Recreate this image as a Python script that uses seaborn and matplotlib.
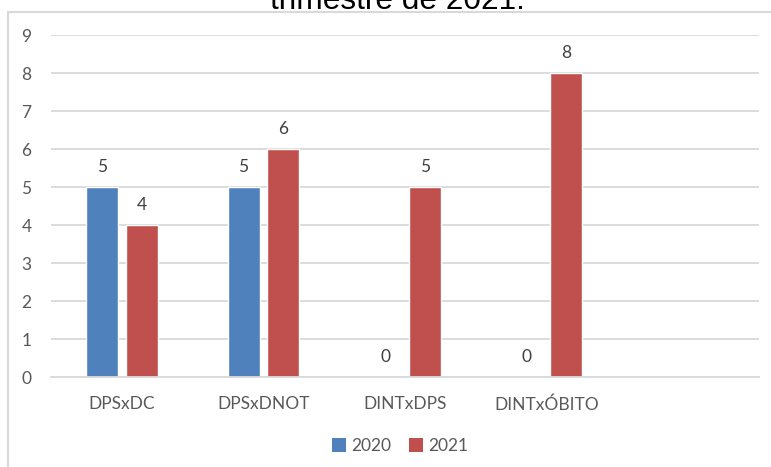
import matplotlib
matplotlib.use("Agg")
import matplotlib.pyplot as plt
from matplotlib.patches import Rectangle, Patch
import seaborn as sns
import pandas as pd

categories = ["DPSxDC", "DPSxDNOT", "DINTxDPS", "DINTxÓBITO"]
years = ["2020", "2021"]
values_2020 = [5, 5, 0, 0]
values_2021 = [4, 6, 5, 8]
title_text = "trimestre de 2021."

df = pd.DataFrame({
    "categoria": categories * 2,
    "ano": [years[0]] * 4 + [years[1]] * 4,
    "valor": values_2020 + values_2021,
})

sns.set_theme(style="white")
plt.rcParams["font.family"] = ["Lato", "DejaVu Sans"]

W, H = 771, 467
fig = plt.figure(figsize=(W / 100, H / 100), dpi=100)
ax = fig.add_axes([51 / W, 1 - 377 / H, (759 - 51) / W, (377 - 35) / H])

colors = {"2020": "#4F81BD", "2021": "#C0504D"}
sns.barplot(data=df, x="categoria", y="valor", hue="ano", order=categories,
            hue_order=years, palette=colors, width=0.56, gap=0.19,
            ax=ax, legend=False, saturation=1)

ax.set_xlim(-0.5, 4.5)
ax.set_ylim(0, 9)
ax.set_yticks(range(10))
ax.yaxis.grid(True, color="#D9D9D9", linewidth=1.3)
ax.set_axisbelow(True)
for s in ["top", "right", "left"]:
    ax.spines[s].set_visible(False)
ax.spines["bottom"].set_color("#D9D9D9")
ax.spines["bottom"].set_linewidth(1.3)
ax.set_xlabel("")
ax.set_ylabel("")
ax.tick_params(axis="both", length=0, labelsize=12.5, colors="#595959")
ax.tick_params(axis="y", pad=14)
ax.tick_params(axis="x", pad=14)

for cont in ax.containers:
    ax.bar_label(cont, fmt="%d", padding=9, fontsize=12.5, color="#404040")

# chart border
fig.patches.append(Rectangle((8 / W, -0.2), 1.2, 1 - 12 / H + 0.2,
                             transform=fig.transFigure, fill=False,
                             edgecolor="#D9D9D9", linewidth=1.5, zorder=0))

# partially visible title (cut off at the top, as in the source)
fig.text(0.515, 1 - 9 / H, title_text, ha="center", va="baseline",
         fontsize=22.8, color="#000000", family=["Liberation Sans", "DejaVu Sans"])

handles = [Patch(facecolor=colors[y], edgecolor="none") for y in years]
fig.legend(handles, years, loc="center", bbox_to_anchor=(400 / W, 1 - 446 / H),
           ncol=2, frameon=False, fontsize=12.5, labelcolor="#595959",
           handlelength=0.8, handleheight=0.8, handletextpad=0.3,
           columnspacing=1.0)

fig.savefig("out.png", dpi=100)
